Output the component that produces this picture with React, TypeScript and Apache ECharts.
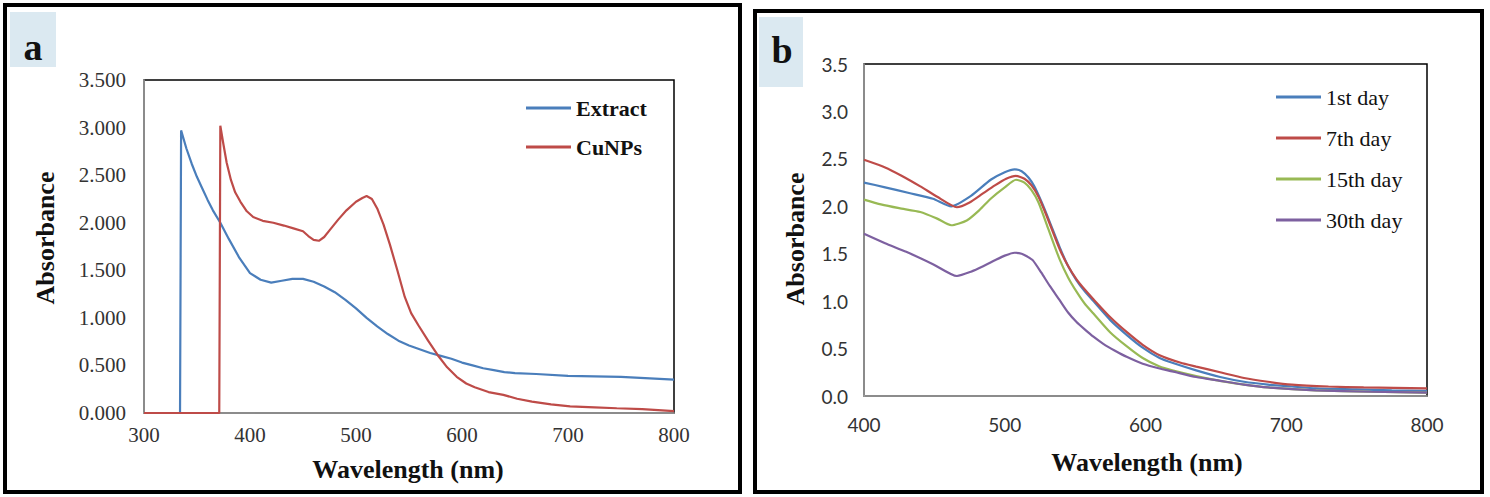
import React, { useEffect, useRef } from "react";
import * as echarts from "echarts";

// ---------- Panel a data ----------
const extractX = [300, 334, 335, 340, 345, 350, 355, 360, 365, 372, 380, 390, 400, 410, 420, 430, 440, 450, 460, 470, 480, 490, 500, 510, 520, 530, 540, 550, 560, 570, 580, 590, 600, 610, 620, 630, 640, 650, 670, 700, 750, 800];
const extractY = [0, 0, 2.97, 2.78, 2.62, 2.48, 2.36, 2.24, 2.13, 2.0, 1.83, 1.63, 1.47, 1.40, 1.37, 1.39, 1.41, 1.41, 1.38, 1.33, 1.27, 1.19, 1.10, 1.00, 0.91, 0.83, 0.76, 0.71, 0.67, 0.63, 0.60, 0.57, 0.53, 0.50, 0.47, 0.45, 0.43, 0.42, 0.41, 0.39, 0.38, 0.35];
const cunpsX = [300, 371, 372, 375, 378, 382, 386, 391, 397, 403, 412, 422, 432, 441, 450, 455, 460, 465, 470, 475, 483, 491, 500, 506, 510, 515, 520, 526, 532, 539, 546, 552, 559, 568, 577, 586, 595, 604, 612, 625, 639, 652, 666, 684, 702, 725, 746, 770, 800];
const cunpsY = [0, 0, 3.02, 2.82, 2.63, 2.45, 2.32, 2.22, 2.12, 2.06, 2.02, 2.00, 1.97, 1.94, 1.91, 1.86, 1.82, 1.81, 1.85, 1.92, 2.03, 2.13, 2.22, 2.26, 2.28, 2.25, 2.15, 1.98, 1.77, 1.50, 1.22, 1.05, 0.92, 0.76, 0.61, 0.48, 0.38, 0.31, 0.27, 0.22, 0.19, 0.15, 0.12, 0.09, 0.07, 0.06, 0.05, 0.04, 0.02];

// ---------- Panel b data ----------
const day1X = [400, 415, 432, 449, 462, 476, 490, 500, 507, 512, 517, 521, 526, 531, 539, 545, 551, 557, 563, 575, 587, 598, 610, 619, 636, 653, 670, 687, 704, 721, 750, 775, 800];
const day1Y = [2.25, 2.20, 2.14, 2.08, 2.00, 2.11, 2.28, 2.36, 2.39, 2.37, 2.30, 2.21, 2.05, 1.87, 1.57, 1.37, 1.22, 1.10, 1.00, 0.80, 0.64, 0.51, 0.40, 0.35, 0.27, 0.20, 0.15, 0.12, 0.10, 0.08, 0.07, 0.06, 0.055];
const day7X = [400, 415, 427, 440, 452, 466, 475, 484, 493, 501, 508, 514, 519, 524, 530, 539, 545, 551, 557, 563, 575, 587, 598, 610, 625, 636, 653, 670, 687, 704, 730, 755, 800];
const day7Y = [2.49, 2.41, 2.32, 2.21, 2.10, 1.99, 2.04, 2.13, 2.22, 2.29, 2.32, 2.29, 2.22, 2.10, 1.89, 1.55, 1.37, 1.23, 1.12, 1.02, 0.83, 0.67, 0.54, 0.43, 0.35, 0.31, 0.25, 0.19, 0.15, 0.12, 0.10, 0.09, 0.08];
const day15X = [400, 412, 425, 440, 452, 462, 473, 482, 490, 500, 508, 514, 519, 524, 531, 539, 545, 551, 557, 563, 575, 587, 598, 610, 619, 636, 653, 670, 687, 721, 760, 800];
const day15Y = [2.07, 2.02, 1.98, 1.94, 1.87, 1.80, 1.85, 1.96, 2.08, 2.20, 2.28, 2.25, 2.17, 2.04, 1.76, 1.44, 1.25, 1.10, 0.97, 0.87, 0.67, 0.52, 0.40, 0.31, 0.27, 0.21, 0.16, 0.12, 0.09, 0.06, 0.045, 0.035];
const day30X = [400, 415, 430, 449, 466, 476, 485, 493, 500, 507, 512, 516, 520, 526, 532, 539, 545, 551, 557, 563, 570, 578, 587, 598, 610, 619, 636, 653, 670, 687, 721, 760, 800];
const day30Y = [1.71, 1.61, 1.52, 1.39, 1.265, 1.31, 1.37, 1.43, 1.48, 1.51, 1.50, 1.47, 1.43, 1.30, 1.16, 1.01, 0.88, 0.78, 0.70, 0.625, 0.55, 0.48, 0.41, 0.34, 0.29, 0.26, 0.20, 0.16, 0.12, 0.09, 0.06, 0.045, 0.035];

const legendA = ["Extract", "CuNPs"];
const legendB = ["1st day", "7th day", "15th day", "30th day"];
const colors = { blue: "#4a7ebb", red: "#be4b48", green: "#98b954", purple: "#7d60a0" };

const zip = (xs: number[], ys: number[]) => xs.map((x, i) => [x, ys[i]]);

const SERIF = "'Liberation Serif', 'Times New Roman', serif";
const SANS = "Lato, 'Noto Sans', sans-serif";

export default function App() {
  const ref = useRef<HTMLDivElement>(null);
  useEffect(() => {
    if (!ref.current) return;
    const chart = echarts.init(ref.current, null, { renderer: "svg" });
    const axisLineGrey = { show: true, lineStyle: { color: "#a6a6a6", width: 1.5 } };
    const option: any = {
      animation: false,
      backgroundColor: "#ffffff",
      grid: [
        { left: 144, top: 80, width: 530, height: 333, show: true, borderColor: "#000", borderWidth: 1.5, backgroundColor: "transparent" },
        { left: 864, top: 64, width: 563, height: 332, show: true, borderColor: "#000", borderWidth: 1.5, backgroundColor: "transparent" },
      ],
      xAxis: [
        {
          gridIndex: 0, type: "value", min: 300, max: 800, interval: 100,
          axisLine: axisLineGrey, axisTick: { show: false }, splitLine: { show: false },
          axisLabel: { color: "#333", fontFamily: SERIF, fontSize: 21, margin: 11 },
        },
        {
          gridIndex: 1, type: "value", min: 400, max: 800, interval: 100,
          axisLine: axisLineGrey, axisTick: { show: false }, splitLine: { show: false },
          axisLabel: { color: "#333", fontFamily: SANS, fontSize: 19, margin: 19 },
        },
      ],
      yAxis: [
        {
          gridIndex: 0, type: "value", min: 0, max: 3.5, interval: 0.5,
          axisLine: axisLineGrey, axisTick: { show: false }, splitLine: { show: false },
          axisLabel: { color: "#333", fontFamily: SERIF, fontSize: 21, margin: 18, formatter: (v: number) => v.toFixed(3) },
        },
        {
          gridIndex: 1, type: "value", min: 0, max: 3.5, interval: 0.5,
          axisLine: axisLineGrey, axisTick: { show: false }, splitLine: { show: false },
          axisLabel: { color: "#333", fontFamily: SANS, fontSize: 19, margin: 16, formatter: (v: number) => v.toFixed(1) },
        },
      ],
      legend: [
        {
          data: legendA, orient: "vertical", left: 526, top: 97, padding: 0, itemGap: 17,
          icon: "rect", itemWidth: 45, itemHeight: 3,
          textStyle: { fontFamily: SERIF, fontWeight: "bold", fontSize: 22, color: "#111", lineHeight: 22 },
        },
        {
          data: legendB, orient: "vertical", left: 1276, top: 86, padding: 0, itemGap: 19,
          icon: "rect", itemWidth: 45, itemHeight: 3,
          textStyle: { fontFamily: SERIF, fontSize: 22, color: "#111", lineHeight: 22 },
        },
      ],
      series: [
        { name: "Extract", type: "line", xAxisIndex: 0, yAxisIndex: 0, data: zip(extractX, extractY), showSymbol: false, lineStyle: { color: colors.blue, width: 2.2 }, itemStyle: { color: colors.blue } },
        { name: "CuNPs", type: "line", xAxisIndex: 0, yAxisIndex: 0, data: zip(cunpsX, cunpsY), showSymbol: false, lineStyle: { color: colors.red, width: 2.2 }, itemStyle: { color: colors.red } },
        { name: "1st day", type: "line", xAxisIndex: 1, yAxisIndex: 1, data: zip(day1X, day1Y), showSymbol: false, smooth: 0.2, lineStyle: { color: colors.blue, width: 2.2 }, itemStyle: { color: colors.blue } },
        { name: "7th day", type: "line", xAxisIndex: 1, yAxisIndex: 1, data: zip(day7X, day7Y), showSymbol: false, smooth: 0.2, lineStyle: { color: colors.red, width: 2.2 }, itemStyle: { color: colors.red } },
        { name: "15th day", type: "line", xAxisIndex: 1, yAxisIndex: 1, data: zip(day15X, day15Y), showSymbol: false, smooth: 0.2, lineStyle: { color: colors.green, width: 2.2 }, itemStyle: { color: colors.green } },
        { name: "30th day", type: "line", xAxisIndex: 1, yAxisIndex: 1, data: zip(day30X, day30Y), showSymbol: false, smooth: 0.2, lineStyle: { color: colors.purple, width: 2.2 }, itemStyle: { color: colors.purple } },
      ],
      graphic: [
        { type: "rect", shape: { x: 5, y: 5, width: 735, height: 487 }, style: { fill: "none", stroke: "#000", lineWidth: 4 }, z: 10 },
        { type: "rect", shape: { x: 755, y: 11, width: 727, height: 481 }, style: { fill: "none", stroke: "#000", lineWidth: 4 }, z: 10 },
        { type: "rect", shape: { x: 10, y: 12, width: 46, height: 55 }, style: { fill: "#dbe9f1" }, z: 1 },
        { type: "rect", shape: { x: 759, y: 17, width: 44, height: 70 }, style: { fill: "#dbe9f1" }, z: 1 },
        { type: "text", x: 33, y: 47, style: { text: "a", font: `bold 38px ${SERIF}`, fill: "#111", align: "center", verticalAlign: "middle" }, z: 2 },
        { type: "text", x: 782, y: 50, style: { text: "b", font: `bold 38px ${SERIF}`, fill: "#111", align: "center", verticalAlign: "middle" }, z: 2 },
        { type: "text", x: 45, y: 238, rotation: Math.PI / 2, style: { text: "Absorbance", font: `bold 26px ${SERIF}`, fill: "#111", align: "center", verticalAlign: "middle" }, z: 2 },
        { type: "text", x: 795, y: 239, rotation: Math.PI / 2, style: { text: "Absorbance", font: `bold 26px ${SERIF}`, fill: "#111", align: "center", verticalAlign: "middle" }, z: 2 },
        { type: "text", x: 408, y: 469, style: { text: "Wavelength (nm)", font: `bold 26px ${SERIF}`, fill: "#111", align: "center", verticalAlign: "middle" }, z: 2 },
        { type: "text", x: 1147, y: 462, style: { text: "Wavelength (nm)", font: `bold 26px ${SERIF}`, fill: "#111", align: "center", verticalAlign: "middle" }, z: 2 },
      ],
    };
    chart.setOption(option);
    return () => chart.dispose();
  }, []);
  return <div ref={ref} style={{ position: "fixed", left: 0, top: 0, width: 1490, height: 497 }} />;
}
